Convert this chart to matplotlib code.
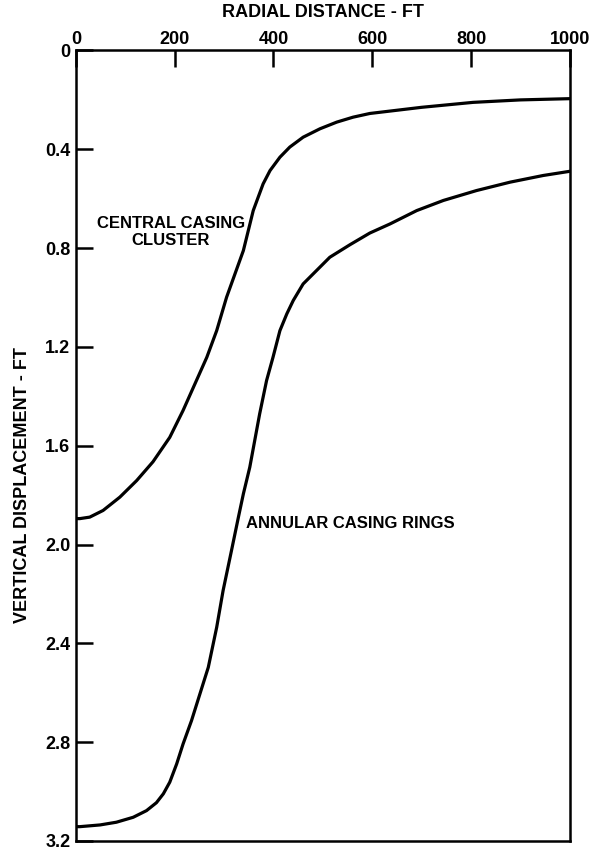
import matplotlib.pyplot as plt
from matplotlib import font_manager

# values
central_x = [0, 8, 28, 55, 89, 123, 156, 190, 217, 244, 265, 285, 305, 339, 359, 369,
             379, 393, 413, 433, 460, 494, 528, 561, 595, 700, 804, 900, 1000]
central_y = [1.895, 1.895, 1.889, 1.862, 1.808, 1.741, 1.665, 1.566, 1.457, 1.336, 1.242, 1.134,
             0.999, 0.810, 0.648, 0.594, 0.540, 0.486, 0.432, 0.391, 0.351, 0.317, 0.290,
             0.270, 0.255, 0.230, 0.210, 0.200, 0.195]

annular_x = [0, 8, 49, 82, 116, 143, 163, 177, 190, 204, 217, 234, 251, 268, 285, 298, 315, 329,
             339, 352, 362, 372, 386, 399, 413, 427, 440, 460, 487, 514, 555, 595, 636,
             690, 744, 811, 879, 946, 1000]
annular_y = [3.142, 3.142, 3.135, 3.124, 3.104, 3.077, 3.045, 3.009, 2.962, 2.888, 2.807,
             2.713, 2.605, 2.497, 2.335, 2.186, 2.024, 1.889, 1.795, 1.687, 1.579, 1.471,
             1.336, 1.242, 1.134, 1.066, 1.012, 0.945, 0.891, 0.837, 0.786, 0.739, 0.702,
             0.648, 0.607, 0.567, 0.533, 0.506, 0.489]

x_ticks = [0, 200, 400, 600, 800, 1000]
y_ticks = [0, 0.4, 0.8, 1.2, 1.6, 2.0, 2.4, 2.8, 3.2]
y_labels = ["0", "0.4", "0.8", "1.2", "1.6", "2.0", "2.4", "2.8", "3.2"]

names = {f.name for f in font_manager.fontManager.ttflist}
fam = "Liberation Sans Narrow" if "Liberation Sans Narrow" in names else "Liberation Sans"
plt.rcParams["font.family"] = [fam, "DejaVu Sans"]
plt.rcParams["font.weight"] = "bold"

fig = plt.figure(figsize=(5.93, 8.5), dpi=100)
ax = fig.add_axes([0.128, 0.0106, 0.833, 0.930])

for xs, ys in [(central_x, central_y), (annular_x, annular_y)]:
    ax.plot(xs, ys, color="black", lw=2.3, solid_capstyle="round", solid_joinstyle="round")

ax.set_xlim(0, 1000)
ax.set_ylim(3.2, 0)

ax.xaxis.tick_top()
ax.xaxis.set_label_position("top")
ax.set_xticks(x_ticks)
ax.set_xticklabels([str(v) for v in x_ticks])
ax.set_yticks(y_ticks)
ax.set_yticklabels(y_labels)
ax.tick_params(direction="in", length=12, width=1.8, labelsize=13, pad=4)
ax.tick_params(axis="x", pad=2)

for s in ax.spines.values():
    s.set_linewidth(1.8)

ax.set_xlabel("RADIAL DISTANCE - FT", fontsize=13, fontweight="bold", labelpad=10)
ax.set_ylabel("VERTICAL DISPLACEMENT - FT", fontsize=13, fontweight="bold")
ax.yaxis.set_label_coords(-0.09, 0.45)

ax.text(192, 0.735, "CENTRAL CASING\nCLUSTER", ha="center", va="center",
        fontsize=12, fontweight="bold", linespacing=1.15)
ax.text(344, 1.915, "ANNULAR CASING RINGS", ha="left", va="center",
        fontsize=12, fontweight="bold")

fig.savefig("out.png", dpi=100)
